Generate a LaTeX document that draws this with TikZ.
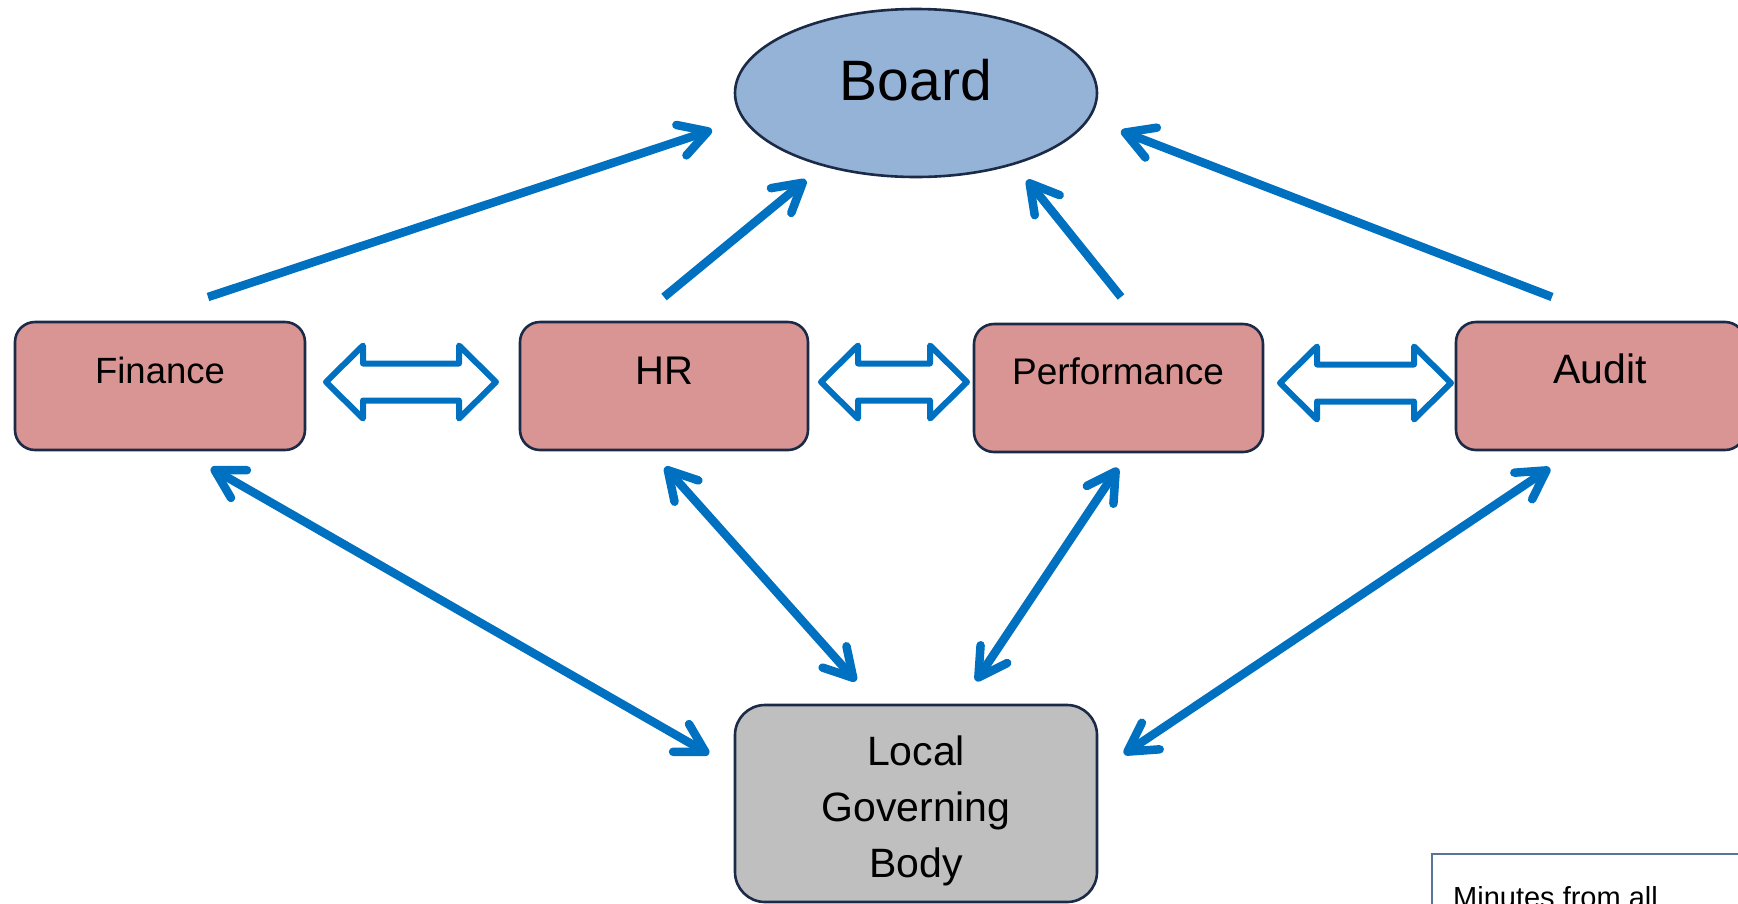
\documentclass[tikz,border=0pt]{standalone}
\usepackage{fontspec}
\setmainfont{Liberation Sans}
\usetikzlibrary{arrows.meta}
\definecolor{arrowblue}{HTML}{0070C0}
\definecolor{edgenavy}{HTML}{1B2A47}
\definecolor{pinkfill}{HTML}{D99594}
\definecolor{boardfill}{HTML}{95B3D7}
\definecolor{greyfill}{HTML}{BFBFBF}
\definecolor{notebox}{HTML}{5A7398}
\newcommand\blockdbl[4]{% name, x1, x2, yc
  \draw[blockarrow] (#2,#4) -- (#2+37,#4-36.5) -- (#2+37,#4-18.5) -- (#3-37,#4-18.5)
    -- (#3-37,#4-36.5) -- (#3,#4) -- (#3-37,#4+36.5) -- (#3-37,#4+18.5)
    -- (#2+37,#4+18.5) -- (#2+37,#4+36.5) -- cycle;
  \coordinate (#1) at ({(#2+#3)/2},#4);}
\tikzset{
  unitbox/.style={draw=edgenavy, line width=2.6pt, rounded corners=20pt, fill=pinkfill},
  lbl/.style={anchor=base, inner sep=0pt, text=black},
  barb/.tip={Straight Barb[length=28pt, width=32pt, line cap=round, line join=round]},
  link/.style={draw=arrowblue, line width=8.5pt, line cap=butt, -barb},
  link2/.style={draw=arrowblue, line width=8.5pt, barb-barb},
  blockarrow/.style={draw=arrowblue, line width=6pt, line join=round, fill=white},
}
\begin{document}
\begin{tikzpicture}[x=1pt,y=-1pt]
\useasboundingbox (0,0) rectangle (1738,903);
\clip (0,0) rectangle (1738,903);
% Board
\draw[draw=edgenavy, line width=2.6pt, fill=boardfill] (916,93) ellipse [x radius=181, y radius=84];
\node[lbl, font=\fontsize{57}{68}\selectfont] (board) at (916,100) {Board};
\coordinate (boardc) at (916,93);
% committee boxes
\draw[unitbox] (15,322) rectangle (305,450);
\node[lbl, font=\fontsize{36.5}{44}\selectfont] (fin) at (160,383) {Finance};
\draw[unitbox] (520,322) rectangle (808,450);
\node[lbl, font=\fontsize{40}{48}\selectfont] (hr) at (664,384) {HR};
\draw[unitbox] (974,324) rectangle (1263,452);
\node[lbl, font=\fontsize{37}{44}\selectfont] (perf) at (1118,384) {Performance};
\draw[unitbox] (1456,322) rectangle (1745,450);
\node[lbl, font=\fontsize{41}{48}\selectfont] (aud) at (1600,383) {Audit};
% Local Governing Body
\draw[draw=edgenavy, line width=2.6pt, rounded corners=30pt, fill=greyfill] (735,705) rectangle (1097,902);
\node[anchor=base, inner sep=0pt, align=center, font=\fontsize{41}{56}\selectfont] (lgb) at (916,877) {Local\\Governing\\Body};
% note box
\draw[draw=notebox, line width=1.4pt, fill=white] (1432,854) rectangle (1760,940);
\node[anchor=base west, inner sep=0pt, font=\fontsize{29}{35}\selectfont] (note) at (1453,907) {Minutes from all};
% connector end points
\coordinate (finTop) at (208,297);
\coordinate (hrTop) at (664,297);
\coordinate (perfTop) at (1121,297);
\coordinate (audTop) at (1552,297);
\coordinate (bFin) at (712,130);
\coordinate (bHr) at (806,180);
\coordinate (bPerf) at (1027,180);
\coordinate (bAud) at (1121,131);
\coordinate (finBot) at (211,468);
\coordinate (hrBot) at (665,467);
\coordinate (perfBot) at (1118,468);
\coordinate (audBot) at (1550,468);
\coordinate (lFin) at (709,754);
\coordinate (lHr) at (856,681);
\coordinate (lPerf) at (976,681);
\coordinate (lAud) at (1124,754);
\draw[link] (finTop) -- (bFin);
\draw[link] (hrTop) -- (bHr);
\draw[link] (perfTop) -- (bPerf);
\draw[link] (audTop) -- (bAud);
\draw[link2] (finBot) -- (lFin);
\draw[link2] (hrBot) -- (lHr);
\draw[link2] (perfBot) -- (lPerf);
\draw[link2] (audBot) -- (lAud);
% block double arrows
\blockdbl{ba}{326}{496}{382}
\blockdbl{bb}{821}{967}{382}
\blockdbl{bc}{1280}{1451}{383}
\end{tikzpicture}
\end{document}
